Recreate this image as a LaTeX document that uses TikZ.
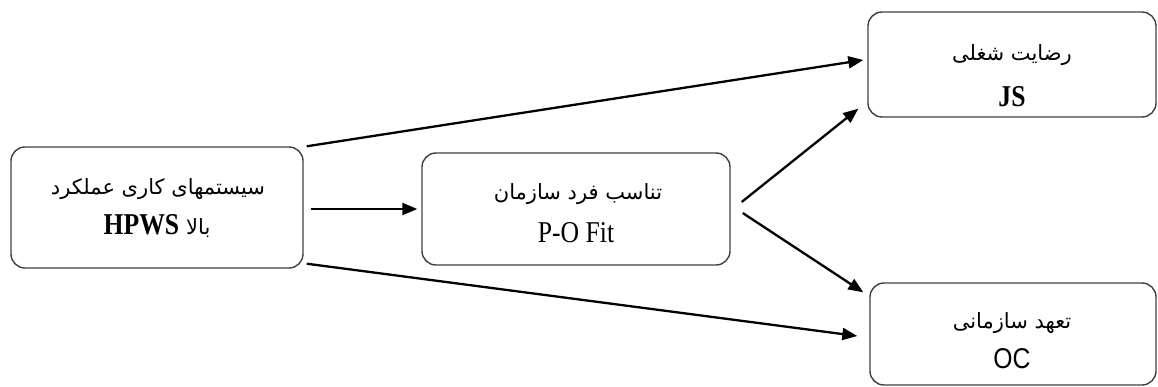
\documentclass[tikz,border=0pt]{standalone}
\usepackage{fontspec}
\usepackage{graphicx}
\setmainfont{Liberation Serif}
\newfontfamily\arabicfont[Script=Arabic]{DejaVu Sans}
\newfontfamily\sansf{Liberation Sans}
\TeXXeTstate=1
\usetikzlibrary{arrows.meta}
\tikzset{
  box/.style={draw=black!75, line width=1.4pt, rounded corners=14pt, align=center, inner sep=0pt},
  conn/.style={-{Triangle[length=15pt,width=12pt]}, line width=2.3pt, black},
  ar/.style={font=\arabicfont\fontsize{21}{24}\selectfont},
  lat/.style={anchor=base, inner sep=0pt},
}
\newcommand{\lt}[1]{\scalebox{0.95}[1.12]{\fontsize{27}{30}\selectfont #1}}
\begin{document}
\begin{tikzpicture}[x=1pt,y=-1pt]
\useasboundingbox (0,0) rectangle (1158,387);
\node[box, minimum width=292pt, minimum height=121pt] (L) at (157,207.5) {};
\node[box, minimum width=308pt, minimum height=112pt] (M) at (576,209) {};
\node[box, minimum width=288pt, minimum height=105pt] (JS) at (1012,64.5) {};
\node[box, minimum width=286pt, minimum height=102pt] (OC) at (1013,334) {};
% texts
\node[ar] (Lt1) at (158,189) {\beginR سیستمهای کاری عملکرد\endR};
\node[lat] (Lt2) at (157,235) {\lt{\textbf{HPWS}}\hspace{7pt}{\arabicfont\fontsize{21}{24}\selectfont\beginR بالا\endR}};
\node[ar] (Mt1) at (578,194) {\beginR تناسب فرد سازمان\endR};
\node[lat] (Mt2) at (576,243) {\lt{P-O Fit}};
\node[ar] (Jt1) at (1012,55) {\beginR رضایت شغلی\endR};
\node[lat] (Jt2) at (1012,107) {\lt{\textbf{JS}}};
\node[ar] (Ot1) at (1012,323) {\beginR تعهد سازمانی\endR};
\node[lat] (Ot2) at (1012,368) {\scalebox{0.95}[1.1]{\sansf\fontsize{26}{30}\selectfont OC}};
% connectors
\draw[conn] ([shift={(3,0)}]L.north east) -- ([shift={(-4,-4.5)}]JS.west);
\draw[conn] ([shift={(7,1.5)}]L.east) -- ([shift={(-4,0)}]M.west);
\draw[conn] ([shift={(3,-5)}]L.south east) -- ([shift={(-12,2)}]OC.west);
\draw[conn] ([shift={(11,-7)}]M.east) -- ([shift={(-9,-9)}]JS.south west);
\draw[conn] ([shift={(12,4)}]M.east) -- ([shift={(-6,10)}]OC.north west);
\end{tikzpicture}
\end{document}
